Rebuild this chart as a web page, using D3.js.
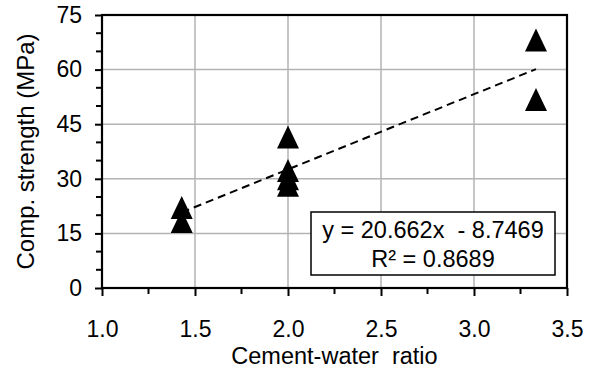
<!DOCTYPE html>
<html>
<head>
<meta charset="utf-8">
<script src="https://cdn.jsdelivr.net/npm/d3@7"></script>
<style>
  html, body { margin: 0; padding: 0; background: #fff; }
  svg text { font-family: "Liberation Sans", Arial, sans-serif; fill: #000; }
</style>
</head>
<body>
<svg id="chart" width="594" height="370"></svg>
<script>
// ---- data ----
const ratioX = [1.4286, 1.4286, 2.0, 2.0, 2.0, 2.0, 3.3333, 3.3333];
const strengthY = [22.1, 18.3, 41.5, 32.3, 30.0, 28.2, 68.1, 51.8];
const xTicks = [1.0, 1.5, 2.0, 2.5, 3.0, 3.5];
const yTicks = [0, 15, 30, 45, 60, 75];
const trendSlope = 20.662;
const trendIntercept = -8.7469;
const equationLines = ["y = 20.662x  - 8.7469", "R² = 0.8689"];
const xTitle = "Cement-water  ratio";
const yTitle = "Comp. strength (MPa)";

// ---- layout ----
const W = 594, H = 370;
const m = { left: 102, right: 27, top: 15, bottom: 82 };
const iw = W - m.left - m.right, ih = H - m.top - m.bottom;

const svg = d3.select("#chart");
const g = svg.append("g").attr("transform", `translate(${m.left},${m.top})`);

const x = d3.scaleLinear().domain([1.0, 3.5]).range([0, iw]);
const y = d3.scaleLinear().domain([0, 75]).range([ih, 0]);

// gridlines
g.append("g").selectAll("line").data(xTicks.slice(1, -1)).join("line")
  .attr("x1", d => x(d)).attr("x2", d => x(d)).attr("y1", 0).attr("y2", ih)
  .attr("stroke", "#b3b3b3").attr("stroke-width", 1.5);
g.append("g").selectAll("line").data(yTicks.slice(1, -1)).join("line")
  .attr("y1", d => y(d)).attr("y2", d => y(d)).attr("x1", 0).attr("x2", iw)
  .attr("stroke", "#b3b3b3").attr("stroke-width", 1.5);

// minor ticks
const xMinor = d3.range(1.0, 3.5001, 0.25).filter(v => !xTicks.some(t => Math.abs(t - v) < 1e-6));
const yMinor = d3.range(0, 75.001, 5).filter(v => !yTicks.some(t => Math.abs(t - v) < 1e-6));

const xAxis = g.append("g").attr("transform", `translate(0,${ih})`)
  .call(d3.axisBottom(x).tickValues(xTicks).tickFormat(d3.format(".1f")).tickSize(8).tickPadding(25));
xAxis.append("g").selectAll("line").data(xMinor).join("line")
  .attr("x1", d => x(d)).attr("x2", d => x(d)).attr("y1", 0).attr("y2", 6)
  .attr("stroke", "#000").attr("stroke-width", 2);

const yAxis = g.append("g")
  .call(d3.axisLeft(y).tickValues(yTicks).tickFormat(d3.format("d")).tickSize(7).tickPadding(13));
yAxis.append("g").selectAll("line").data(yMinor).join("line")
  .attr("y1", d => y(d)).attr("y2", d => y(d)).attr("x1", 0).attr("x2", -6)
  .attr("stroke", "#000").attr("stroke-width", 2);

[xAxis, yAxis].forEach(a => {
  a.select(".domain").remove();
  a.selectAll(".tick line").attr("stroke", "#000").attr("stroke-width", 2);
  a.selectAll(".tick text").attr("font-size", 23).attr("fill", "#000")
    .attr("font-family", '"Liberation Sans", Arial, sans-serif');
});

// plot border
g.append("rect").attr("x", 0).attr("y", 0).attr("width", iw).attr("height", ih)
  .attr("fill", "none").attr("stroke", "#000").attr("stroke-width", 2.2);

// trendline
const xr = d3.extent(ratioX);
g.append("line")
  .attr("x1", x(xr[0])).attr("y1", y(trendSlope * xr[0] + trendIntercept))
  .attr("x2", x(xr[1])).attr("y2", y(trendSlope * xr[1] + trendIntercept))
  .attr("stroke", "#000").attr("stroke-width", 2).attr("stroke-dasharray", "8,5");

// markers (triangles)
const mw = 22, mh = 23;
g.append("g").selectAll("path").data(ratioX.map((v, i) => [v, strengthY[i]])).join("path")
  .attr("d", d => {
    const cx = x(d[0]), cy = y(d[1]);
    const p = d3.path();
    p.moveTo(cx, cy - mh / 2);
    p.lineTo(cx + mw / 2, cy + mh / 2);
    p.lineTo(cx - mw / 2, cy + mh / 2);
    p.closePath();
    return p.toString();
  })
  .attr("fill", "#000");

// equation box
const bx = 209, by = 197, bw = 244, bh = 63;
g.append("rect").attr("x", bx).attr("y", by).attr("width", bw).attr("height", bh)
  .attr("fill", "#fff").attr("stroke", "#000").attr("stroke-width", 1.5);
g.append("g").selectAll("text").data(equationLines).join("text")
  .attr("x", bx + bw / 2).attr("y", (d, i) => by + 26 + i * 29)
  .attr("text-anchor", "middle").attr("font-size", 23.5)
  .style("white-space", "pre").text(d => d);

// axis titles
svg.append("text").attr("x", m.left + iw / 2).attr("y", 364)
  .attr("text-anchor", "middle").attr("font-size", 23.5)
  .style("white-space", "pre").text(xTitle);
svg.append("text").attr("transform", `translate(34,${m.top + ih / 2}) rotate(-90)`)
  .attr("text-anchor", "middle").attr("font-size", 24).text(yTitle);
</script>
</body>
</html>
